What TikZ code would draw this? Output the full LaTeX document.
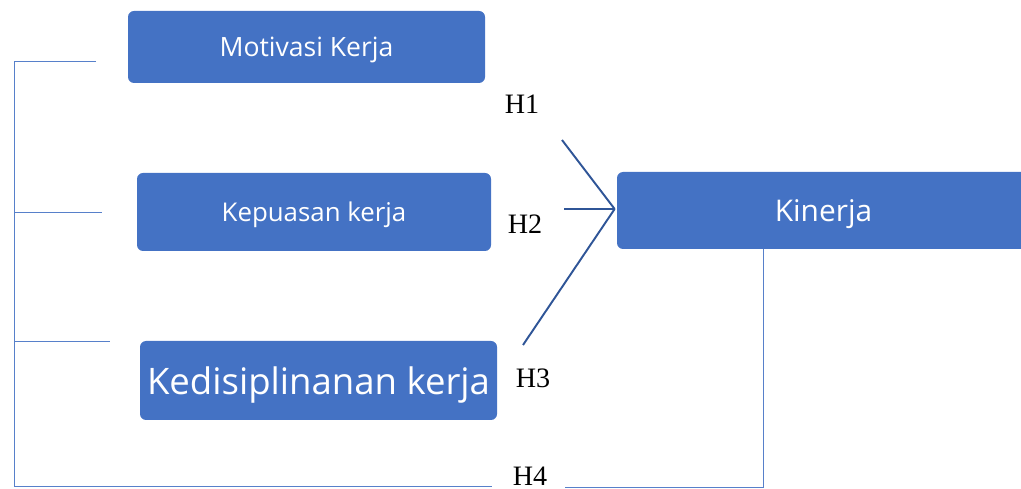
\documentclass[tikz,border=0pt]{standalone}
\usepackage{fontspec}
\setmainfont{Liberation Serif}
\newfontfamily\boxfont{Open Sans}
\usetikzlibrary{calc}

\definecolor{boxblue}{HTML}{4472C4}
\definecolor{linkblue}{HTML}{2F5597}

\tikzset{
  varbox/.style={rectangle, fill=boxblue, rounded corners=1.2mm, text=white, inner sep=0pt, text depth=0pt, font=\boxfont},
  hlabel/.style={inner sep=0pt, font=\fontsize{16}{19}\selectfont},
  link/.style={draw=linkblue, line width=1.1pt},
  bracket/.style={draw=boxblue!90, line width=0.55pt}
}

\begin{document}
\begin{tikzpicture}[x=0.02cm, y=-0.02cm]
\useasboundingbox (0,0) rectangle (1021,489);

\draw node [varbox, minimum width=357*0.02cm, minimum height=72*0.02cm, font=\boxfont\fontsize{15.1}{18}\selectfont] (motivasi) at (306.5,47) {Motivasi Kerja};
\draw node [varbox, minimum width=354*0.02cm, minimum height=78*0.02cm, font=\boxfont\fontsize{14.7}{17}\selectfont] (kepuasan) at (314,212) {Kepuasan kerja};
\draw node [varbox, minimum width=357*0.02cm, minimum height=79*0.02cm, font=\boxfont\fontsize{20.8}{25}\selectfont] (disiplin) at (318.5,380.5) {Kedisiplinanan kerja};
\draw node [varbox, minimum width=413*0.02cm, minimum height=77*0.02cm, font=\boxfont\fontsize{17}{20}\selectfont] (kinerja) at (823.5,210.5) {Kinerja};

\draw node [hlabel] (h1lab) at (522,104) {H1};
\draw node [hlabel] (h2lab) at (525,224) {H2};
\draw node [hlabel] (h3lab) at (533,378) {H3};
\draw node [hlabel] (h4lab) at (530,476) {H4};

\coordinate (h1) at (562,140);
\coordinate (h2) at (564,209);
\coordinate (h3) at (523,345);
\draw[link] (h1) -- ($ (kinerja.west) - (2,1.5)$);
\draw[link] (h2) -- ($ (kinerja.west) - (2,1.5)$);
\draw[link] (h3) -- ($ (kinerja.west) - (2,1.5)$);

\coordinate (b1) at (96,61);
\coordinate (b2) at (102,212);
\coordinate (b3) at (110,341);
\coordinate (b4) at (492,486);
\draw[bracket] (b1) -- (14,61) -- (14,486) -- (b4);
\draw[bracket] (14,212) -- (b2);
\draw[bracket] (14,341) -- (b3);

\coordinate (k4) at (763,487);
\draw[bracket] (565,487) -- (k4) -- (kinerja.south -| k4);

\end{tikzpicture}
\end{document}
